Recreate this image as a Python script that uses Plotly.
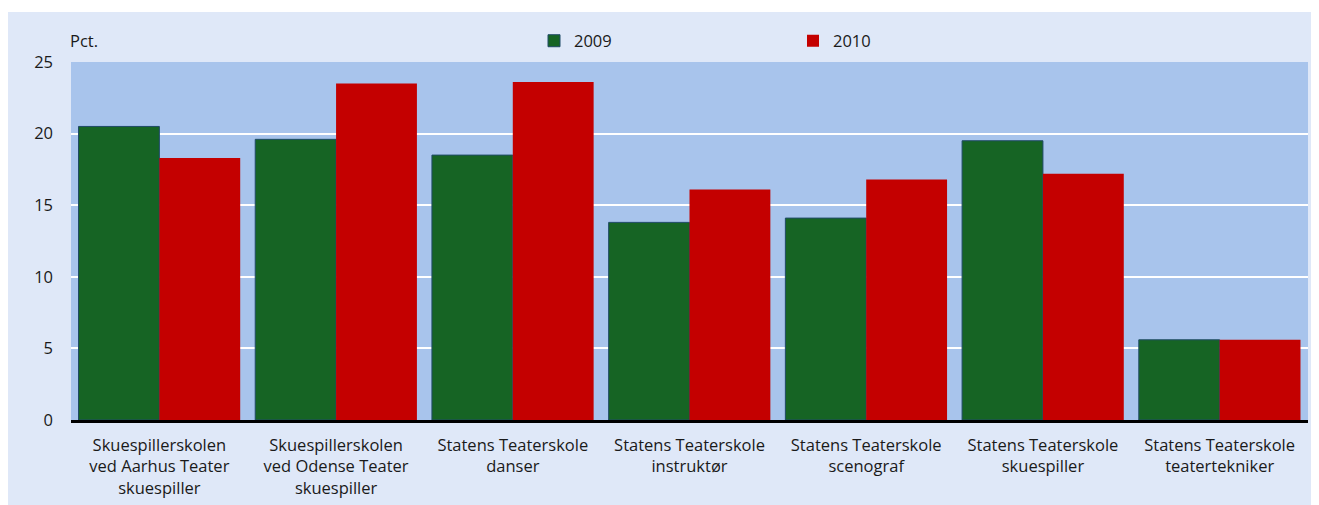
import plotly.graph_objects as go

categories = [
    "Skuespillerskolen<br>ved Aarhus Teater<br>skuespiller",
    "Skuespillerskolen<br>ved Odense Teater<br>skuespiller",
    "Statens Teaterskole<br>danser",
    "Statens Teaterskole<br>instruktør",
    "Statens Teaterskole<br>scenograf",
    "Statens Teaterskole<br>skuespiller",
    "Statens Teaterskole<br>teatertekniker",
]
values_2009 = [20.5, 19.6, 18.5, 13.8, 14.1, 19.5, 5.6]
values_2010 = [18.3, 23.5, 23.6, 16.1, 16.8, 17.2, 5.6]
y_ticks = [0, 5, 10, 15, 20, 25]

FONT = "Open Sans, Noto Sans, sans-serif"
FS = 16.5
TXT = "#1a1a1a"
OFF = 8  # page body margin
W, H = 1319 - OFF, 505 - OFF
ML, MR, MT, MB = 71 - OFF, 11, 62 - OFF, 85
pw, ph = W - ML - MR, H - MT - MB

def px_x(x):
    # x in reference-image pixels -> paper fraction
    return (x - OFF - ML) / pw

def px_y(y):
    return (H - MB - (y - OFF)) / ph

fig = go.Figure()
fig.add_trace(go.Bar(
    x=categories, y=values_2009, name="2009",
    marker=dict(color="#166424", line=dict(color="#1f4a66", width=1)),
))
fig.add_trace(go.Bar(
    x=categories, y=values_2010, name="2010",
    marker=dict(color="#c40000", line=dict(color="#c40000", width=0)),
))

fig.update_layout(
    width=W, height=H,
    margin=dict(l=ML, r=MR, t=MT, b=MB),
    paper_bgcolor="white",
    plot_bgcolor="#a8c4ec",
    barmode="group",
    bargap=0.085,
    bargroupgap=0,
    font=dict(family=FONT, size=FS, color=TXT),
    showlegend=True,
    legend=dict(
        orientation="h",
        x=px_x(534), xanchor="left",
        y=px_y(41), yanchor="middle",
        bgcolor="rgba(0,0,0,0)",
        font=dict(size=FS, color=TXT),
        entrywidth=214, entrywidthmode="pixels",
        itemwidth=30,
    ),
    shapes=[
        dict(type="rect", xref="paper", yref="paper", layer="below",
             x0=px_x(8), x1=px_x(1311), y0=px_y(510), y1=px_y(12),
             fillcolor="#dfe8f8", line=dict(width=0)),
        dict(type="rect", xref="paper", yref="paper", layer="below",
             x0=0, x1=1, y0=0, y1=1,
             fillcolor="#a8c4ec", line=dict(width=0)),
    ],
    annotations=[
        dict(text="Pct.", xref="paper", yref="paper",
             x=px_x(68), y=px_y(41), xanchor="left", yanchor="middle",
             showarrow=False, font=dict(size=FS, color=TXT)),
    ],
)

fig.update_xaxes(
    automargin=False,
    showgrid=False,
    showline=True, linecolor="black", linewidth=3,
    ticks="", tickfont=dict(size=FS, color=TXT),
    ticklabelstandoff=8,
)
fig.update_yaxes(
    automargin=False,
    range=[0, 25],
    tickvals=y_ticks,
    showgrid=True, gridcolor="white", gridwidth=2,
    zeroline=False, showline=False,
    ticks="", tickfont=dict(size=FS, color=TXT),
    ticklabelstandoff=17,
)

fig.write_html("out.html")
